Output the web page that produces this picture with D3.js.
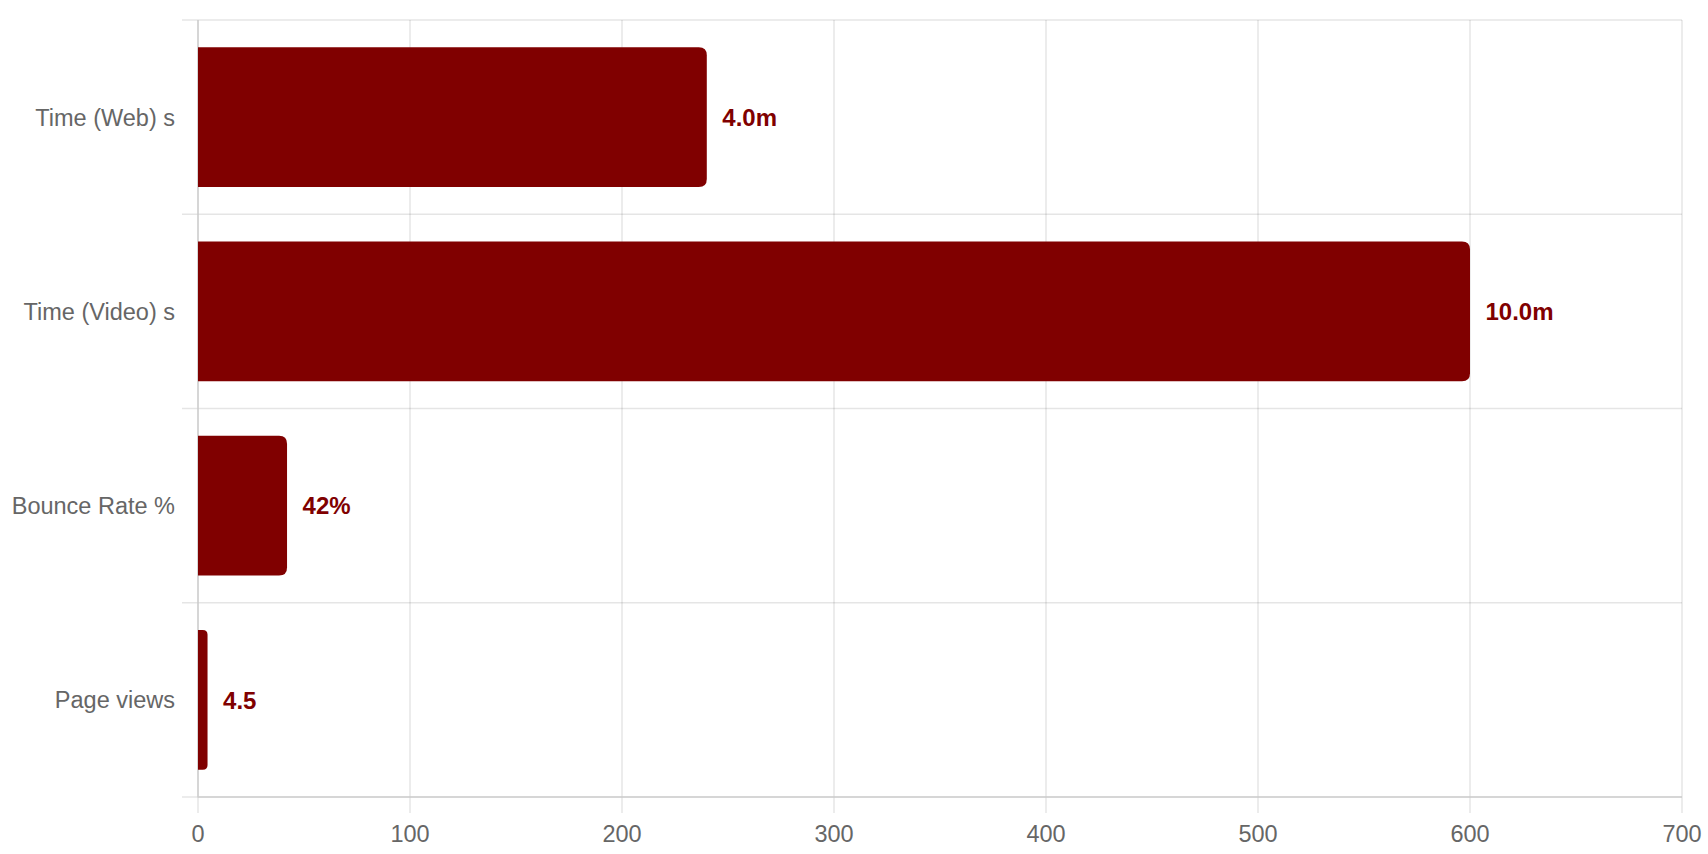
<!DOCTYPE html>
<html>
<head>
<meta charset="utf-8">
<script src="https://cdn.jsdelivr.net/npm/d3@7"></script>
<style>
  html, body { margin: 0; padding: 0; background: #fff; }
  svg { display: block; font-family: "Liberation Sans", Helvetica, Arial, sans-serif; }
</style>
</head>
<body>
<svg id="chart" width="1708" height="854"></svg>
<script>
const categories = ["Time (Web) s", "Time (Video) s", "Bounce Rate %", "Page views"];
const values = [240, 600, 42, 4.5];
const valueLabels = ["4.0m", "10.0m", "42%", "4.5"];
const xTicks = [0, 100, 200, 300, 400, 500, 600, 700];

(function () {
const mLeft = 198, mRight = 1682, mTop = 20, mBottom = 797;
const barColor = "#800000";
const gridColor = "rgba(0,0,0,0.1)";
const axisColor = "#cfcfcf";
const textColor = "#666";

const svg = d3.select("#chart");

const x = d3.scaleLinear().domain([0, 700]).range([mLeft, mRight]);
const y = d3.scaleBand().domain(categories).range([mTop, mBottom]).paddingInner(0).paddingOuter(0);

// vertical grid lines (with tick extension)
svg.append("g").selectAll("line").data(xTicks).join("line")
  .attr("x1", d => x(d)).attr("x2", d => x(d))
  .attr("y1", mTop).attr("y2", mBottom + 16)
  .attr("stroke", gridColor).attr("stroke-width", 1.5);

// horizontal grid lines at band edges
const edges = categories.map(c => y(c)).concat([mBottom]);
svg.append("g").selectAll("line").data(edges).join("line")
  .attr("x1", mLeft - 16).attr("x2", mRight)
  .attr("y1", d => d).attr("y2", d => d)
  .attr("stroke", gridColor).attr("stroke-width", 1.5);

// axis borders
svg.append("line").attr("x1", mLeft).attr("x2", mLeft).attr("y1", mTop).attr("y2", mBottom)
  .attr("stroke", axisColor).attr("stroke-width", 1.5);
svg.append("line").attr("x1", mLeft).attr("x2", mRight).attr("y1", mBottom).attr("y2", mBottom)
  .attr("stroke", axisColor).attr("stroke-width", 1.5);

// x tick labels
svg.append("g").selectAll("text").data(xTicks).join("text")
  .attr("x", d => x(d)).attr("y", 842)
  .attr("text-anchor", "middle")
  .attr("fill", textColor).attr("font-size", 23.5)
  .text(d => d);

// y tick labels
svg.append("g").selectAll("text").data(categories).join("text")
  .attr("x", 175).attr("y", d => y(d) + y.bandwidth() / 2)
  .attr("dy", "0.36em")
  .attr("text-anchor", "end")
  .attr("fill", textColor).attr("font-size", 23.5)
  .text(d => d);

// bars with rounded right corners
const barH = y.bandwidth() * 0.72;
function barPath(x0, x1, yc, h) {
  const w = x1 - x0;
  const r = Math.min(8, w / 2, h / 2);
  const y0 = yc - h / 2, y1 = yc + h / 2;
  return `M${x0},${y0} L${x1 - r},${y0} Q${x1},${y0} ${x1},${y0 + r} L${x1},${y1 - r} Q${x1},${y1} ${x1 - r},${y1} L${x0},${y1} Z`;
}
svg.append("g").selectAll("path").data(categories).join("path")
  .attr("d", (c, i) => barPath(x(0), x(values[i]), y(c) + y.bandwidth() / 2, barH))
  .attr("fill", barColor);

// value labels
svg.append("g").selectAll("text").data(categories).join("text")
  .attr("x", (c, i) => x(values[i]) + 15.5)
  .attr("y", c => y(c) + y.bandwidth() / 2)
  .attr("dy", "0.36em")
  .attr("fill", barColor).attr("font-size", 24).attr("font-weight", "bold")
  .text((c, i) => valueLabels[i]);
})();
</script>
</body>
</html>
